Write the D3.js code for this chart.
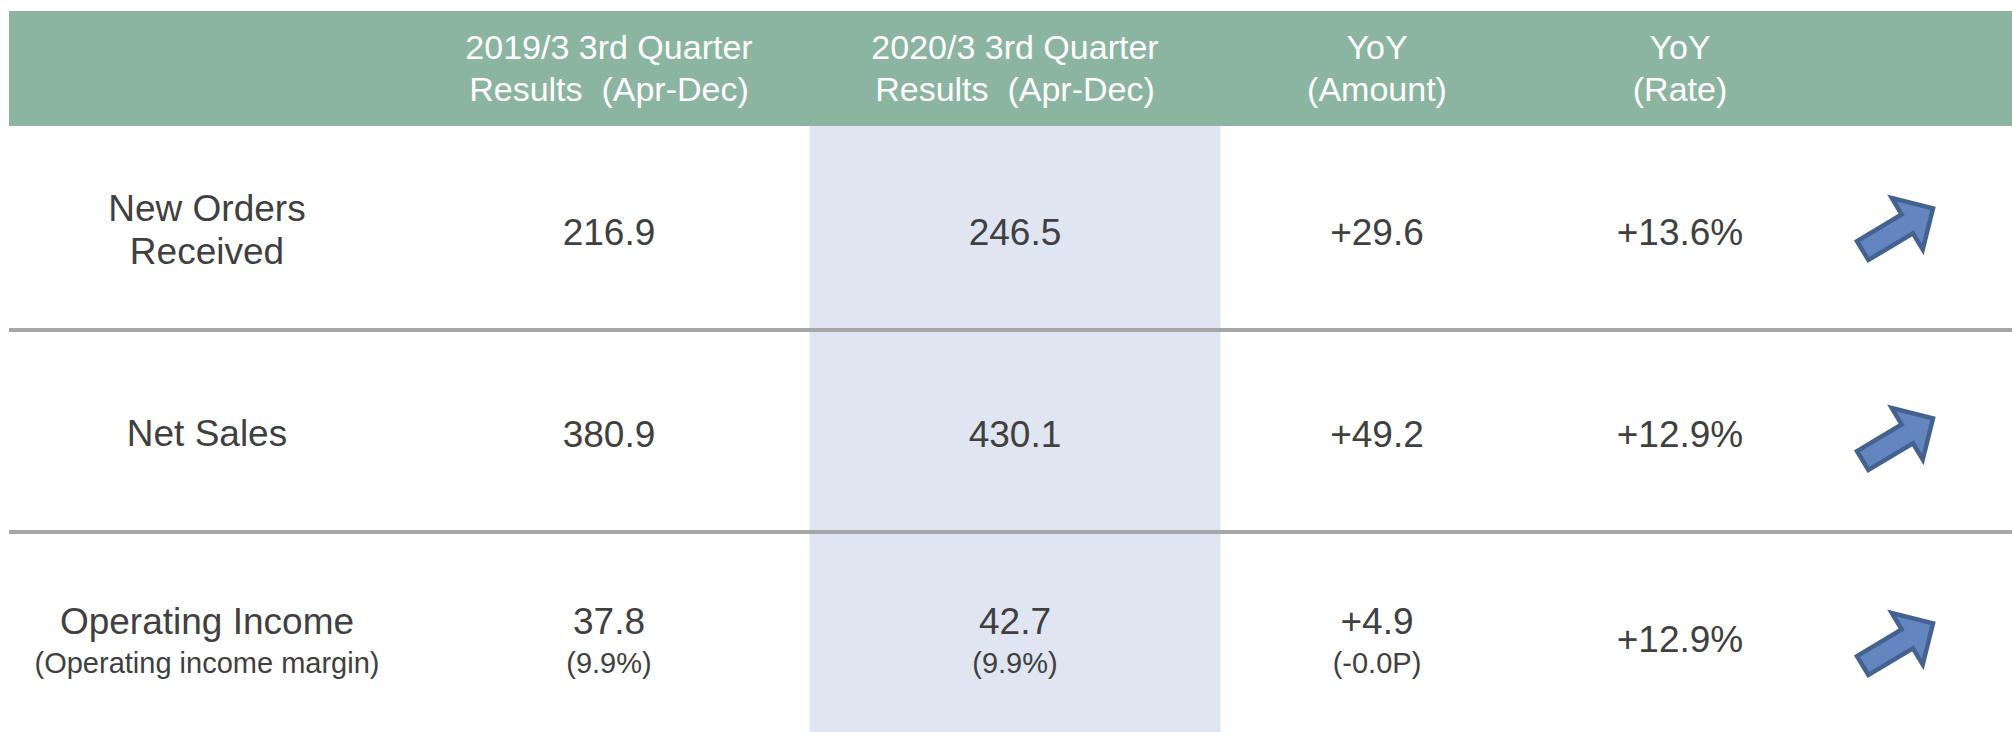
<!DOCTYPE html>
<html>
<head>
<meta charset="utf-8">
<script src="https://cdn.jsdelivr.net/npm/d3@7"></script>
<style>
  html, body { margin: 0; padding: 0; background: #fff; }
  svg { display: block; font-family: "Liberation Sans", Arial, sans-serif; }
  text { white-space: pre; }
</style>
</head>
<body>
<svg id="chart" width="2012" height="732"></svg>
<script>
"use strict"

// header labels, one array of lines per column
var columns = ["label", "prev", "curr", "amount", "rate", "trend"];
var headers = [
  [],
  ["2019/3 3rd Quarter", "Results  (Apr-Dec)"],
  ["2020/3 3rd Quarter", "Results  (Apr-Dec)"],
  ["YoY", "(Amount)"],
  ["YoY", "(Rate)"],
  []
];

// rows
var categories = ["New Orders Received", "Net Sales", "Operating Income"];
var labelLines = [["New Orders", "Received"], ["Net Sales"], ["Operating Income"]];
var labelNotes = ["", "", "(Operating income margin)"];

var prevValues = [216.9, 380.9, 37.8];
var currValues = [246.5, 430.1, 42.7];
var yoyAmount  = ["+29.6", "+49.2", "+4.9"];
var yoyRate    = ["+13.6%", "+12.9%", "+12.9%"];

var prevNotes   = ["", "", "(9.9%)"];
var currNotes   = ["", "", "(9.9%)"];
var amountNotes = ["", "", "(-0.0P)"];

var width = 2012, height = 732;
var HEAD_TOP = 11, HEAD_BOTTOM = 126, LEFT = 9;
var TEXT = "#404040";

var svg = d3.select("#chart");

// column centres and row bands
var x = d3.scaleOrdinal().domain(columns).range([207, 609, 1015, 1377, 1680, 1897]);
var y = d3.scaleBand().domain(categories).range([HEAD_BOTTOM, height]).paddingInner(0).paddingOuter(0);

//highlighted current-year column
var HL_W = 411;
svg.append("rect")
  .attr("x", x("curr") - HL_W / 2).attr("y", HEAD_BOTTOM)
  .attr("width", HL_W).attr("height", height - HEAD_BOTTOM)
  .attr("fill", "#dfe5f1");

//header band
svg.append("rect")
  .attr("x", LEFT).attr("y", HEAD_TOP)
  .attr("width", width - LEFT).attr("height", HEAD_BOTTOM - HEAD_TOP)
  .attr("fill", "#8bb5a0");

var head = svg.append("g").attr("class", "header");
columns.forEach(function(c, i){
  headers[i].forEach(function(line, k){
    head.append("text")
      .attr("x", x(c)).attr("y", 59 + k * 42)
      .attr("text-anchor", "middle")
      .attr("font-size", 34)
      .attr("fill", "#ffffff")
      .text(line);
  });
});

//row separators
svg.selectAll("line.sep").data(categories.slice(1)).enter().append("line")
  .attr("class", "sep")
  .attr("x1", LEFT).attr("x2", width)
  .attr("y1", function(d){ return y(d) + 2; })
  .attr("y2", function(d){ return y(d) + 2; })
  .attr("stroke", "#a6a6a6").attr("stroke-width", 4);

var rows = svg.selectAll("g.row").data(categories).enter().append("g")
  .attr("class", "row")
  .attr("transform", function(d){ return "translate(0," + (y(d) + y.bandwidth() / 2) + ")"; });

function cell(g, col, main, note, dy){
  var hasNote = note !== "";
  g.append("text")
    .attr("x", x(col)).attr("y", hasNote ? 3 : dy)
    .attr("text-anchor", "middle").attr("font-size", 37).attr("fill", TEXT)
    .text(main);
  if(hasNote){
    g.append("text")
      .attr("x", x(col)).attr("y", 42)
      .attr("text-anchor", "middle").attr("font-size", 29).attr("fill", TEXT)
      .text(note);
  }
}

rows.each(function(d, i){
  var g = d3.select(this);

  //row label
  var lines = labelLines[i];
  if(lines.length === 2){
    lines.forEach(function(l, k){
      g.append("text").attr("x", x("label")).attr("y", -6 + k * 43)
        .attr("text-anchor", "middle").attr("font-size", 37).attr("fill", TEXT).text(l);
    });
  }else{
    cell(g, "label", lines[0], labelNotes[i], 17);
  }

  cell(g, "prev", prevValues[i].toFixed(1), prevNotes[i], 18);
  cell(g, "curr", currValues[i].toFixed(1), currNotes[i], 18);
  cell(g, "amount", yoyAmount[i], amountNotes[i], 18);

  g.append("text").attr("x", x("rate")).attr("y", i === 2 ? 21 : 18)
    .attr("text-anchor", "middle").attr("font-size", 37).attr("fill", TEXT)
    .text(yoyRate[i]);

  //up-right arrow
  g.append("path")
    .attr("d", "M-40,-11 L12,-11 L12,-30 L42,0 L12,30 L12,11 L-40,11 Z")
    .attr("transform", "translate(" + x("trend") + "," + (i === 0 ? 3 : (i === 1 ? 11 : 14)) + ") rotate(-31)")
    .attr("fill", "#6585c1")
    .attr("stroke", "#44628f")
    .attr("stroke-width", 4.5)
    .attr("stroke-linejoin", "miter");
});
</script>
</body>
</html>
